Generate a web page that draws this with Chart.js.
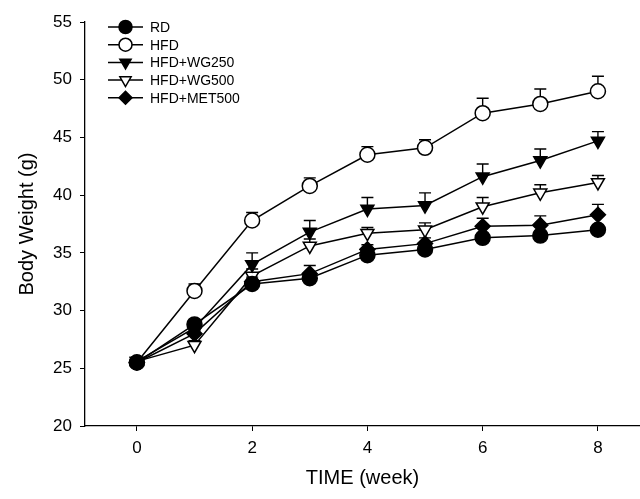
<!DOCTYPE html>
<html>
<head>
<meta charset="utf-8">
<script src="https://cdn.jsdelivr.net/npm/chart.js@4.4.0/dist/chart.umd.min.js"></script>
<style>
  html, body { margin: 0; padding: 0; background: #fff; overflow: hidden; }
  #wrap { width: 649px; height: 499px; }
</style>
</head>
<body>
<div id="wrap"><canvas id="bw"></canvas></div>
<script>
// body weight over time, mean (+ SEM, upper only)
const weeks = [0, 1, 2, 3, 4, 5, 6, 7, 8];
const xTicks = [0, 2, 4, 6, 8];
const yTicks = [20, 25, 30, 35, 40, 45, 50, 55];

const rd      = [25.5, 28.8, 32.3, 32.8, 34.8, 35.3, 36.3, 36.5, 37.0];
const rdErr   = [0.3, 0.3, 0.3, 0.3, 0.3, 0.3, 0.3, 0.3, 0.3];
const hfd     = [25.5, 31.7, 37.8, 40.8, 43.5, 44.1, 47.1, 47.9, 49.0];
const hfdErr  = [0.3, 0.6, 0.7, 0.7, 0.7, 0.7, 1.3, 1.3, 1.3];
const wg250   = [25.6, 28.5, 34.0, 36.8, 38.8, 39.1, 41.6, 43.0, 44.7];
const wg250Err= [0.3, 0.4, 1.0, 1.0, 1.0, 1.1, 1.1, 1.0, 0.8];
const wg500   = [25.6, 27.0, 33.0, 35.6, 36.7, 37.0, 39.0, 40.2, 41.1];
const wg500Err= [0.3, 0.4, 0.6, 0.6, 0.5, 0.6, 0.8, 0.7, 0.6];
const met500  = [25.5, 28.0, 32.5, 33.2, 35.3, 35.8, 37.3, 37.4, 38.3];
const met500Err=[0.3, 0.3, 0.4, 0.7, 0.4, 0.5, 0.7, 0.8, 0.9];

function series(label, vals, errs, style, fill, rot){
  return {
    label,
    data: weeks.map((w,i)=>({x:w, y:vals[i]})),
    errs,
    borderColor: '#000',
    borderWidth: 1.5,
    pointStyle: style,
    pointRotation: rot || 0,
    pointRadius: 7.5,
    pointBorderWidth: 1.5,
    pointBorderColor: '#000',
    pointBackgroundColor: fill,
    tension: 0
  };
}

const datasets = [
  series('RD', rd, rdErr, 'circle', '#000'),
  series('HFD', hfd, hfdErr, 'circle', '#fff'),
  series('HFD+WG250', wg250, wg250Err, 'triangle', '#000', 180),
  series('HFD+WG500', wg500, wg500Err, 'triangle', '#fff', 180),
  series('HFD+MET500', met500, met500Err, 'rectRot', '#000')
];

// upper error bars, drawn under the markers
const errorBars = {
  id: 'errorBars',
  beforeDatasetsDraw(chart){
    const ctx = chart.ctx, xs = chart.scales.x, ys = chart.scales.y;
    ctx.save();
    ctx.strokeStyle = '#000';
    ctx.lineWidth = 1.4;
    chart.data.datasets.forEach(ds => {
      ds.data.forEach((p,i) => {
        const px = xs.getPixelForValue(p.x);
        const y0 = ys.getPixelForValue(p.y);
        const y1 = ys.getPixelForValue(p.y + ds.errs[i]);
        ctx.beginPath();
        ctx.moveTo(px, y0); ctx.lineTo(px, y1);
        ctx.moveTo(px - 6, y1); ctx.lineTo(px + 6, y1);
        ctx.stroke();
      });
    });
    ctx.restore();
  }
};

// legend in the top-left corner: line through marker, then label
const cornerLegend = {
  id: 'cornerLegend',
  afterDraw(chart){
    const ctx = chart.ctx;
    const x0 = 108, x1 = 143, tx = 150, top = 27, step = 17.7;
    ctx.save();
    ctx.font = '14px "Liberation Sans", Arial, sans-serif';
    ctx.textBaseline = 'middle';
    chart.data.datasets.forEach((ds,i) => {
      const y = top + i*step;
      ctx.strokeStyle = '#000';
      ctx.lineWidth = 1.5;
      ctx.beginPath(); ctx.moveTo(x0, y); ctx.lineTo(x1, y); ctx.stroke();
      ctx.fillStyle = ds.pointBackgroundColor;
      ctx.lineWidth = ds.pointBorderWidth;
      Chart.helpers.drawPoint(ctx, {pointStyle: ds.pointStyle, rotation: ds.pointRotation, radius: 6.5, borderWidth: ds.pointBorderWidth}, (x0+x1)/2, y);
      ctx.fillStyle = '#000';
      ctx.fillText(ds.label, tx, y + 1);
    });
    ctx.restore();
  }
};

const font = '"Liberation Sans", Arial, sans-serif';

new Chart(document.getElementById('bw'), {
  type: 'line',
  data: { datasets },
  plugins: [errorBars, cornerLegend],
  options: {
    responsive: true,
    maintainAspectRatio: false,
    animation: false,
    layout: { padding: { top: 22, right: 0, left: 0, bottom: 0 } },
    plugins: { legend: { display: false }, tooltip: { enabled: false } },
    scales: {
      x: {
        type: 'linear',
        min: -0.9, max: 8.73,
        afterBuildTicks: s => { s.ticks = xTicks.map(v => ({value: v})); },
        afterFit: s => { s.height = 73; },
        border: { display: true, color: '#000', width: 1.3 },
        grid: { drawOnChartArea: false, drawTicks: true, tickLength: 5, color: '#000' },
        ticks: { color: '#000', font: { family: font, size: 17 }, padding: 7, maxRotation: 0 },
        title: { display: true, text: 'TIME (week)', color: '#000', font: { family: font, size: 20 }, padding: { top: 1, bottom: 9 } }
      },
      y: {
        min: 20, max: 55,
        afterBuildTicks: s => { s.ticks = yTicks.map(v => ({value: v})); },
        afterFit: s => { s.width = 85; },
        border: { display: true, color: '#000', width: 1.3 },
        grid: { drawOnChartArea: false, drawTicks: true, tickLength: 5, color: '#000' },
        ticks: { color: '#000', font: { family: font, size: 17 }, padding: 8 },
        title: { display: true, text: 'Body Weight (g)', color: '#000', font: { family: font, size: 20 }, padding: { top: 15, bottom: 0 } }
      }
    }
  }
});
</script>
</body>
</html>
